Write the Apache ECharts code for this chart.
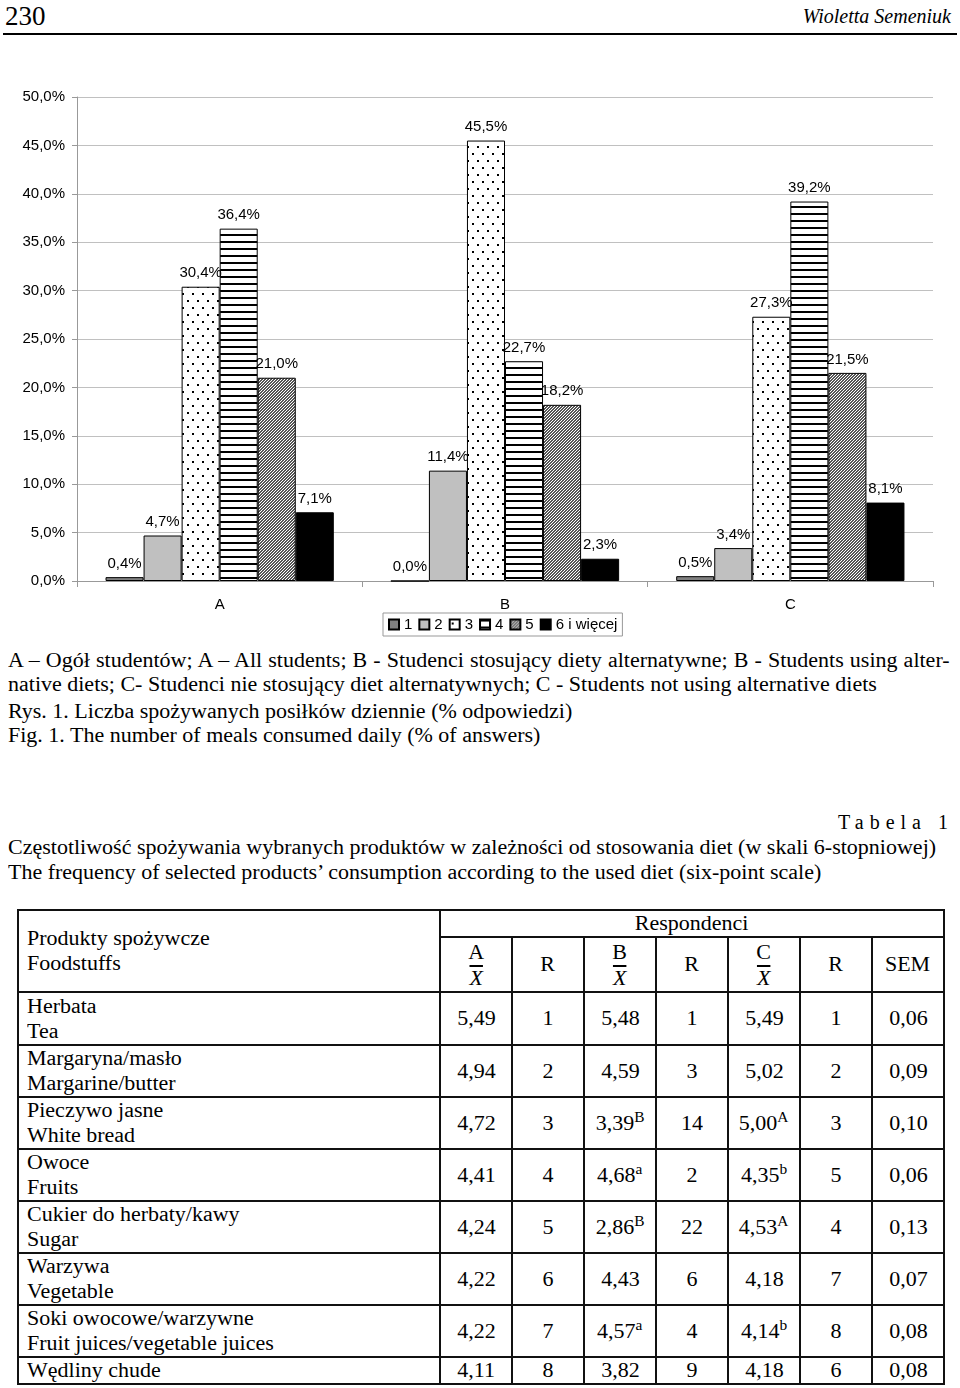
<!DOCTYPE html>
<html><head><meta charset="utf-8">
<script src="https://cdn.jsdelivr.net/npm/echarts@6/dist/echarts.min.js"></script>
<style>
html,body{margin:0;padding:0;background:#fff;}
body{width:960px;height:1388px;position:relative;overflow:hidden;font-family:"Liberation Serif","Times New Roman",serif;color:#000;}
.t{position:absolute;white-space:nowrap;font-size:20px;line-height:24px;}
.sx{transform:scaleX(1.1);transform-origin:0 50%;}
#chart{position:absolute;left:0;top:80px;width:960px;height:565px;}
#tbl{position:absolute;left:17px;top:909px;width:926px;border-collapse:collapse;table-layout:fixed;font-size:20px;}
#tbl td{border:2px solid #111;padding:0;text-align:center;vertical-align:middle;line-height:25px;}
#tbl td.f{text-align:left;padding-left:8px;}
#tbl span.s{display:inline-block;transform:scaleX(1.1);white-space:nowrap;}
#tbl td.f span.s{transform-origin:0 50%;}
.xb{font-style:italic;text-decoration:overline;}
sup{font-size:14px;line-height:0;vertical-align:8px;}
</style>
</head><body>
<div class="t" style="left:5px;top:0px;font-size:27px;line-height:32px;">230</div>
<div class="t" style="right:9px;top:4px;font-size:20px;font-style:italic;">Wioletta Semeniuk</div>
<div style="position:absolute;left:3px;top:33px;width:954px;height:2px;background:#000;"></div>
<div id="chart"></div>
<div class="t sx" style="left:8px;top:648px;width:856px;text-align:justify;text-align-last:justify;">A – Ogół studentów; A – All students; B - Studenci stosujący diety alternatywne; B - Students using alter-</div>
<div class="t sx" style="left:8px;top:672px;">native diets; C- Studenci nie stosujący diet alternatywnych; C - Students not using alternative diets</div>
<div class="t sx" style="left:8px;top:699px;">Rys. 1. Liczba spożywanych posiłków dziennie (% odpowiedzi)</div>
<div class="t sx" style="left:8px;top:723px;">Fig. 1. The number of meals consumed daily (% of answers)</div>
<div class="t" style="right:6px;top:810px;letter-spacing:6px;">Tabela 1</div>
<div class="t sx" style="left:8px;top:835px;">Częstotliwość spożywania wybranych produktów w zależności od stosowania diet (w skali 6-stopniowej)</div>
<div class="t sx" style="left:8px;top:860px;">The frequency of selected products’ consumption according to the used diet (six-point scale)</div>
<table id="tbl"></table>
<script>
// ---- chart data ----
const categories = ['A', 'B', 'C'];
const seriesNames = ['1', '2', '3', '4', '5', '6 i więcej'];
const meals1 = [0.4, 0.0, 0.5];
const meals2 = [4.7, 11.4, 3.4];
const meals3 = [30.4, 45.5, 27.3];
const meals4 = [36.4, 22.7, 39.2];
const meals5 = [21.0, 18.2, 21.5];
const meals6 = [7.1, 2.3, 8.1];
const yTickLabels = ['0,0%', '5,0%', '10,0%', '15,0%', '20,0%', '25,0%', '30,0%', '35,0%', '40,0%', '45,0%', '50,0%'];

// ---- table data ----
const foodsPl = ['Herbata', 'Margaryna/masło', 'Pieczywo jasne', 'Owoce', 'Cukier do herbaty/kawy', 'Warzywa', 'Soki owocowe/warzywne', 'Wędliny chude'];
const foodsEn = ['Tea', 'Margarine/butter', 'White bread', 'Fruits', 'Sugar', 'Vegetable', 'Fruit juices/vegetable juices', ''];
const meanA = ['5,49', '4,94', '4,72', '4,41', '4,24', '4,22', '4,22', '4,11'];
const rankA = ['1', '2', '3', '4', '5', '6', '7', '8'];
const meanB = ['5,48', '4,59', '3,39', '4,68', '2,86', '4,43', '4,57', '3,82'];
const supB = ['', '', 'B', 'a', 'B', '', 'a', ''];
const rankB = ['1', '3', '14', '2', '22', '6', '4', '9'];
const meanC = ['5,49', '5,02', '5,00', '4,35', '4,53', '4,18', '4,14', '4,18'];
const supC = ['', '', 'A', 'b', 'A', '', 'b', ''];
const rankC = ['1', '2', '3', '5', '4', '7', '8', '6'];
const sem = ['0,06', '0,09', '0,10', '0,06', '0,13', '0,07', '0,08', '0,08'];

// ---- build table ----
(function () {
  const S = s => '<span class="s">' + s + '</span>';
  const rowH = [53, 52, 52, 52, 52, 52, 52, 26];
  let h = '<colgroup><col style="width:422px">' + '<col style="width:72px">'.repeat(7) + '</colgroup>';
  h += '<tr style="height:27px"><td class="f" rowspan="2">' + S('Produkty spożywcze<br>Foodstuffs') + '</td><td colspan="7">' + S('Respondenci') + '</td></tr>';
  h += '<tr style="height:55px"><td style="line-height:26px">' + S('A<br><span class="xb">X</span>') + '</td><td>' + S('R') + '</td>' +
       '<td style="line-height:26px">' + S('B<br><span class="xb">X</span>') + '</td><td>' + S('R') + '</td>' +
       '<td style="line-height:26px">' + S('C<br><span class="xb">X</span>') + '</td><td>' + S('R') + '</td><td>' + S('SEM') + '</td></tr>';
  for (let i = 0; i < foodsPl.length; i++) {
    const name = foodsPl[i] + (foodsEn[i] ? '<br>' + foodsEn[i] : '');
    h += '<tr style="height:' + rowH[i] + 'px"><td class="f">' + S(name) + '</td>' +
      '<td>' + S(meanA[i]) + '</td><td>' + S(rankA[i]) + '</td>' +
      '<td>' + S(meanB[i] + (supB[i] ? '<sup>' + supB[i] + '</sup>' : '')) + '</td><td>' + S(rankB[i]) + '</td>' +
      '<td>' + S(meanC[i] + (supC[i] ? '<sup>' + supC[i] + '</sup>' : '')) + '</td><td>' + S(rankC[i]) + '</td>' +
      '<td>' + S(sem[i]) + '</td></tr>';
  }
  document.getElementById('tbl').innerHTML = h;
})();

// ---- patterns ----
function mk(w, h, draw) {
  const c = document.createElement('canvas');
  c.width = w; c.height = h;
  const g = c.getContext('2d');
  g.fillStyle = '#fff'; g.fillRect(0, 0, w, h);
  g.fillStyle = '#000';
  draw(g);
  return c;
}
const dotPat = mk(10, 14, g => { g.fillRect(2, 3, 2, 2); g.fillRect(7, 10, 2, 2); });
const linePat = mk(8, 7, g => { g.fillRect(0, 0, 8, 2); });
const hatchPat = mk(3, 3, g => {
  g.fillStyle = '#555555';
  for (let y = 0; y < 3; y++) { const x = (2 - y + 3) % 3; g.fillRect(x, y, 1, 1); g.fillRect((x + 1) % 3, y, 1, 1); }
});

const fills = ['#808080', '#c0c0c0', { image: dotPat, repeat: 'repeat' }, { image: linePat, repeat: 'repeat' }, { image: hatchPat, repeat: 'repeat' }, '#000000'];
const values = [meals1, meals2, meals3, meals4, meals5, meals6];
const SANS = '"Liberation Sans", Arial, sans-serif';

const chart = echarts.init(document.getElementById('chart'), null, { renderer: 'canvas' });
chart.setOption({
  animation: false,
  grid: { left: 77, right: 27, top: 17, bottom: 64 },
  legend: {
    left: 383, top: 533, data: seriesNames, icon: 'rect',
    itemWidth: 10, itemHeight: 10, itemGap: 6,
    borderColor: '#999', borderWidth: 1, padding: [4, 5, 4, 5],
    textStyle: { fontFamily: SANS, fontSize: 15, color: '#000' }
  },
  xAxis: {
    type: 'category', data: categories,
    axisLine: { lineStyle: { color: '#999' } },
    axisTick: { show: true, length: 6, lineStyle: { color: '#999' } },
    axisLabel: { fontFamily: SANS, fontSize: 15, color: '#000', margin: 16 }
  },
  yAxis: {
    type: 'value', min: 0, max: 50, interval: 5,
    axisLine: { show: true, lineStyle: { color: '#999' } },
    axisTick: { show: true, length: 5, lineStyle: { color: '#999' } },
    splitLine: { lineStyle: { color: '#c0c0c0' } },
    axisLabel: { fontFamily: SANS, fontSize: 15, color: '#000', margin: 12, formatter: v => yTickLabels[Math.round(v / 5)] }
  },
  series: seriesNames.map((n, i) => ({
    name: n, type: 'bar', data: values[i],
    barGap: '0%', barCategoryGap: '20%',
    itemStyle: { color: fills[i], borderColor: '#000', borderWidth: 1 },
    label: {
      show: true, position: 'top', distance: 6, fontFamily: SANS, fontSize: 15, color: '#000',
      formatter: p => p.value.toFixed(1).replace('.', ',') + '%'
    }
  }))
});
</script>
</body></html>
